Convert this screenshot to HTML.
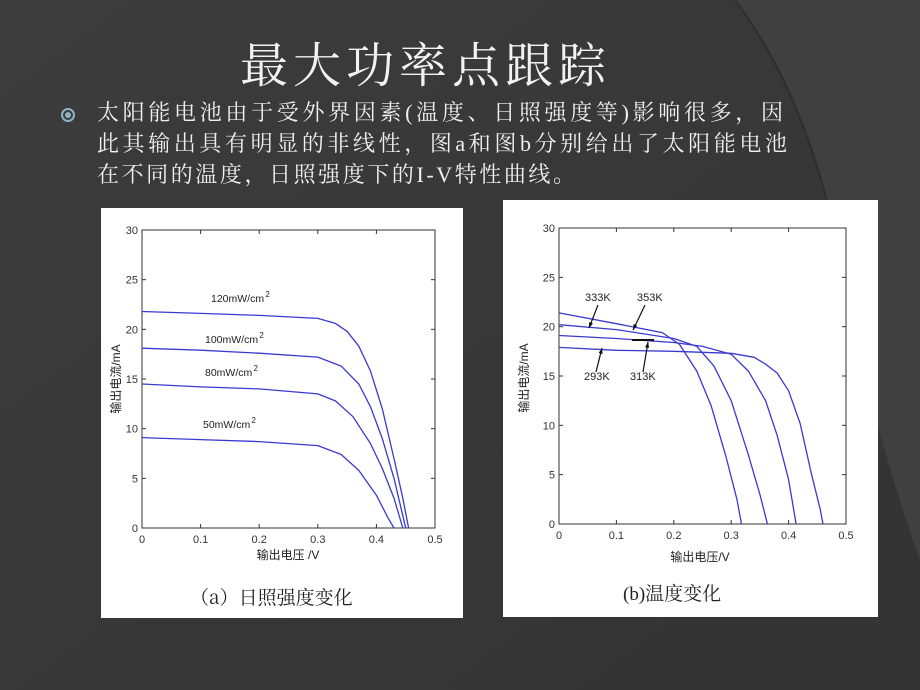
<!DOCTYPE html>
<html><head><meta charset="utf-8"><style>
html,body{margin:0;padding:0;background:#3b3b3b;}
svg{display:block}
</style></head><body>
<svg width="920" height="690" xmlns="http://www.w3.org/2000/svg" font-family="'Liberation Sans','Noto Sans CJK SC',sans-serif">
<defs>
<linearGradient id="bg" x1="0" y1="0" x2="1" y2="1"><stop offset="0" stop-color="#3c3c3c"/><stop offset="1" stop-color="#333"/></linearGradient>
</defs>
<rect width="920" height="690" fill="url(#bg)"/>
<path d="M735,0 Q810,100 840,260 Q870,420 920,560 L920,0 Z" fill="#404040"/>
<path d="M735,0 Q810,100 840,260" stroke="#2e2e2e" stroke-width="2" fill="none"/>
<text x="240" y="82" font-size="48" fill="#f2f2f2" textLength="366" font-family="'Noto Serif CJK SC','Noto Sans CJK SC',serif">最大功率点跟踪</text>
<circle cx="68" cy="115" r="6" fill="none" stroke="#8fb3c6" stroke-width="2"/>
<circle cx="68" cy="115" r="3" fill="#8fb3c6"/>
<g font-size="22" fill="#f0f0f0" font-family="'Liberation Serif','Noto Serif CJK SC',serif">
<text x="97" y="120" textLength="686">太阳能电池由于受外界因素(温度、日照强度等)影响很多，因</text>
<text x="97" y="151" textLength="690">此其输出具有明显的非线性，图a和图b分别给出了太阳能电池</text>
<text x="97" y="182" textLength="478">在不同的温度，日照强度下的I-V特性曲线。</text>
</g>
<rect x="101" y="208" width="362" height="410" fill="#fff"/>
<rect x="503" y="200" width="375" height="417" fill="#fff"/>
<g id="ga"></g>
<g id="gb"></g>
<text x="190" y="604" font-size="19" fill="#222" font-family="'Noto Serif CJK SC',serif">（a）日照强度变化</text>
<text x="623" y="600" font-size="19" fill="#222" font-family="'Liberation Serif','Noto Serif CJK SC',serif">(b)温度变化</text>
<script>
var NS="http://www.w3.org/2000/svg";
function el(p,t,a,txt){var e=document.createElementNS(NS,t);for(var k in a)e.setAttribute(k,a[k]);if(txt)e.textContent=txt;p.appendChild(e);return e;}
function axes(g,L,R,T,B){
 el(g,"rect",{x:L,y:T,width:R-L,height:B-T,fill:"none",stroke:"#333","stroke-width":1});
 for(var i=0;i<=5;i++){var x=L+(R-L)*i/5;el(g,"line",{x1:x,y1:B,x2:x,y2:B-4,stroke:"#333"});el(g,"line",{x1:x,y1:T,x2:x,y2:T+4,stroke:"#333"});
  el(g,"text",{x:x,y:B+15,"font-size":11,"text-anchor":"middle",fill:"#333"},i==0?"0":(i/10).toString());}
 for(var j=0;j<=6;j++){var y=B-(B-T)*j/6;el(g,"line",{x1:L,y1:y,x2:L+4,y2:y,stroke:"#333"});el(g,"line",{x1:R,y1:y,x2:R-4,y2:y,stroke:"#333"});
  el(g,"text",{x:L-4,y:y+4,"font-size":11,"text-anchor":"end",fill:"#333"},String(j*5));}
}
function curve(g,pts,L,R,T,B){var d="";pts.forEach(function(p,i){var x=L+(R-L)*p[0]/0.5,y=B-(B-T)*p[1]/30;d+=(i?"L":"M")+x.toFixed(1)+","+y.toFixed(1);});
 el(g,"path",{d:d,fill:"none",stroke:"#3a3ad0","stroke-width":1.3,"stroke-linejoin":"round"});}
var ga=document.getElementById("ga"),La=142,Ra=435,Ta=230,Ba=528;
axes(ga,La,Ra,Ta,Ba);
[[[0,21.8],[0.1,21.6],[0.2,21.4],[0.3,21.1],[0.33,20.6],[0.35,19.8],[0.37,18.3],[0.39,15.8],[0.41,12],[0.43,7],[0.445,3],[0.455,0]],
[[0,18.1],[0.1,17.9],[0.2,17.6],[0.3,17.2],[0.34,16.3],[0.37,14.5],[0.39,12.2],[0.41,9],[0.43,5],[0.45,0]],
[[0,14.5],[0.1,14.2],[0.2,14],[0.3,13.5],[0.33,12.8],[0.36,11.2],[0.39,8.5],[0.41,6],[0.43,3],[0.445,0]],
[[0,9.1],[0.1,8.9],[0.2,8.7],[0.3,8.3],[0.34,7.4],[0.37,5.8],[0.4,3.3],[0.42,1],[0.43,0]]].forEach(function(p){curve(ga,p,La,Ra,Ta,Ba);});
[["120mW/cm",211,302],["100mW/cm",205,343],["80mW/cm",205,376],["50mW/cm",203,428]].forEach(function(l){var t=el(ga,"text",{x:l[1],y:l[2],"font-size":10.5,fill:"#222"},l[0]);var b=t.getBBox();el(ga,"text",{x:b.x+b.width+1,y:l[2]-5,"font-size":8,fill:"#222"},"2");});
el(ga,"text",{x:288,y:559,"font-size":12,"text-anchor":"middle",fill:"#222"},"输出电压 /V");
el(ga,"text",{x:0,y:0,"font-size":12,"text-anchor":"middle",fill:"#222",transform:"translate(120,379) rotate(-90)"},"输出电流/mA");
var gb=document.getElementById("gb"),Lb=559,Rb=846,Tb=228,Bb=524;
axes(gb,Lb,Rb,Tb,Bb);
[[[0,17.9],[0.1,17.6],[0.2,17.5],[0.3,17.3],[0.34,16.9],[0.36,16.2],[0.38,15.3],[0.4,13.5],[0.42,10.2],[0.44,5],[0.455,1.5],[0.46,0]],
[[0,19.1],[0.1,18.8],[0.2,18.4],[0.25,18],[0.3,17.2],[0.33,15.5],[0.36,12.5],[0.38,9],[0.4,4.5],[0.413,0]],
[[0,20.2],[0.1,19.7],[0.2,18.8],[0.24,18],[0.27,16],[0.3,12.5],[0.33,7],[0.35,3],[0.363,0]],
[[0,21.4],[0.1,20.3],[0.18,19.4],[0.21,18.2],[0.24,15.5],[0.265,12],[0.29,7],[0.31,2.5],[0.318,0]]].forEach(function(p){curve(gb,p,Lb,Rb,Tb,Bb);});
[["333K",585,301],["353K",637,301],["293K",584,380],["313K",630,380]].forEach(function(l){el(gb,"text",{x:l[1],y:l[2],"font-size":11,fill:"#222"},l[0]);});
[[598,305,589,328],[645,305,633,330],[596,372,602,348],[643,372,648,342]].forEach(function(a){el(gb,"line",{x1:a[0],y1:a[1],x2:a[2],y2:a[3],stroke:"#111","stroke-width":1.2});
 var ang=Math.atan2(a[3]-a[1],a[2]-a[0]),s=6;var p1=[a[2]-s*Math.cos(ang-0.35),a[3]-s*Math.sin(ang-0.35)],p2=[a[2]-s*Math.cos(ang+0.35),a[3]-s*Math.sin(ang+0.35)];
 el(gb,"polygon",{points:a[2]+","+a[3]+" "+p1+" "+p2,fill:"#111"});});
el(gb,"line",{x1:632,y1:340,x2:654,y2:340,stroke:"#111","stroke-width":2});
el(gb,"text",{x:700,y:561,"font-size":12,"text-anchor":"middle",fill:"#222"},"输出电压/V");
el(gb,"text",{x:0,y:0,"font-size":12,"text-anchor":"middle",fill:"#222",transform:"translate(528,378) rotate(-90)"},"输出电流/mA");
</script>
</svg>
</body></html>
